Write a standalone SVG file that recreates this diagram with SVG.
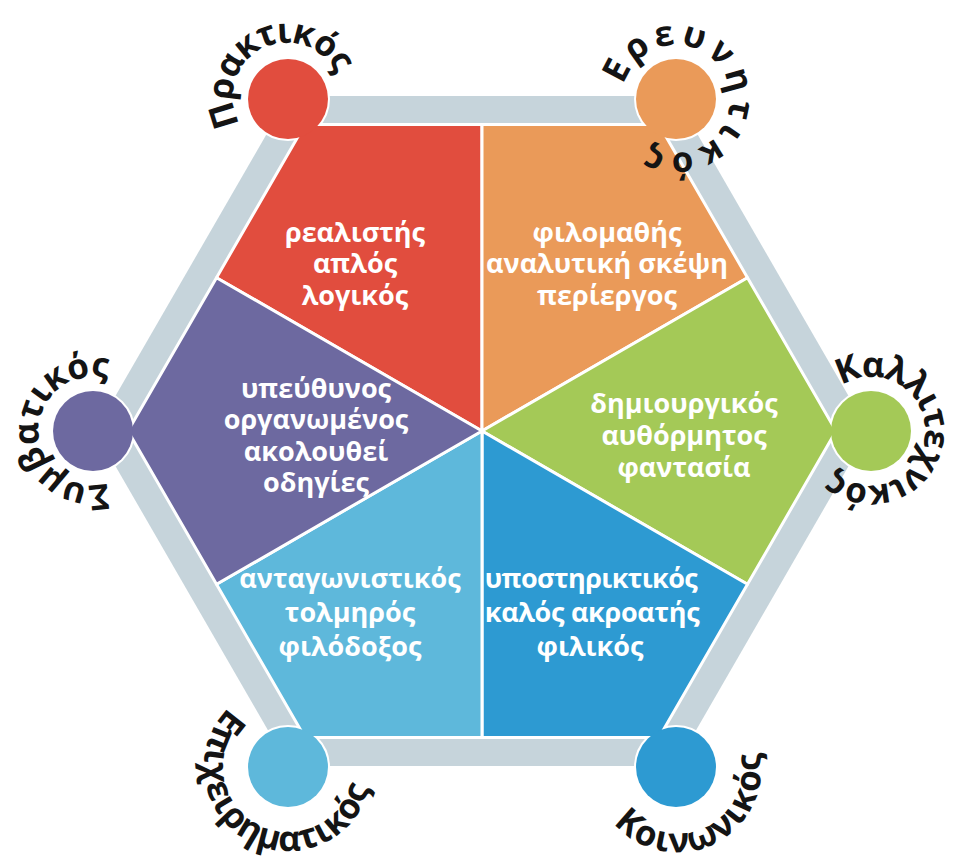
<svg xmlns="http://www.w3.org/2000/svg" width="956" height="859" viewBox="0 0 956 859">
<style>
.sec{stroke:#fff;stroke-width:3;stroke-linejoin:round}
.cs{stroke:#fff;stroke-width:4}
.lbl{font-family:"Open Sans","DejaVu Sans",sans-serif;font-weight:700;font-size:27px;fill:#fff;text-anchor:middle}
.arc{font-family:"Open Sans","DejaVu Sans",sans-serif;font-weight:700;font-size:35px;fill:#141414}
</style>
<defs>
<path id="pPr" d="M240.2,124 A54,54 0 1 1 335.8,74 A54,54 0 1 1 240.2,124"/>
<path id="pEr" d="M623.8,85 A54,54 0 1 1 728.2,113 A54,54 0 1 1 623.8,85"/>
<path id="pSy" d="M107.9,482.9 A54,54 0 1 1 78.1,379.1 A54,54 0 1 1 107.9,482.9"/>
<path id="pKa" d="M841.6,385.7 A54,54 0 1 1 900.4,476.3 A54,54 0 1 1 841.6,385.7"/>
<path id="pEp" d="M228.6,707.6 A84,84 0 1 0 347.4,826.4 A84,84 0 1 0 228.6,707.6"/>
<path id="pKo" d="M613.6,823.2 A84,84 0 1 0 738.4,710.8 A84,84 0 1 0 613.6,823.2"/>
</defs>
<rect width="956" height="859" fill="#fff"/>
<polygon points="288.6,96 675.4,96 868.8,431 675.4,766 288.6,766 95.2,431" fill="#C6D4DB"/>
<g id="circles-under">
<circle class="cs" cx="288" cy="99" r="40" fill="#E14D3E"/>
<circle class="cs" cx="676" cy="99" r="40" fill="#EA9A59"/>
<circle class="cs" cx="871" cy="431" r="40" fill="#A4C957"/>
<circle class="cs" cx="676" cy="767" r="40" fill="#2D9AD2"/>
<circle class="cs" cx="288" cy="767" r="40" fill="#5EB8DB"/>
<circle class="cs" cx="93" cy="431" r="40" fill="#6D69A0"/>
</g>
<g id="praktikos">
<polygon class="sec" fill="#E14D3E" points="482,431 482,124.4 305,124.4 216.5,277.7"/>
<circle cx="288" cy="99" r="40" fill="#E14D3E"/>
<text class="lbl" x="355" y="242">ρεαλιστής</text>
<text class="lbl" x="355" y="273">απλός</text>
<text class="lbl" x="355" y="305">λογικός</text>
<text class="arc" letter-spacing="-1.4"><textPath href="#pPr">Πρακτικός</textPath></text>
</g>
<g id="ereunitikos">
<polygon class="sec" fill="#EA9A59" points="482,431 482,124.4 659,124.4 747.5,277.7"/>
<circle cx="676" cy="99" r="40" fill="#EA9A59"/>
<text class="lbl" x="607" y="242">φιλομαθής</text>
<text class="lbl" x="607" y="273">αναλυτική σκέψη</text>
<text class="lbl" x="607" y="305">περίεργος</text>
<text class="arc" letter-spacing="4.6"><textPath href="#pEr">Ερευνητικός</textPath></text>
</g>
<g id="kallitexnikos">
<polygon class="sec" fill="#A4C957" points="482,431 747.5,277.7 836,431 747.5,584.3"/>
<circle cx="871" cy="431" r="40" fill="#A4C957"/>
<text class="lbl" x="684" y="413">δημιουργικός</text>
<text class="lbl" x="684" y="445">αυθόρμητος</text>
<text class="lbl" x="684" y="477">φαντασία</text>
<text class="arc" letter-spacing="-1.5"><textPath href="#pKa">Καλλιτεχνικός</textPath></text>
</g>
<g id="koinonikos">
<polygon class="sec" fill="#2D9AD2" points="482,431 747.5,584.3 659,737.6 482,737.6"/>
<circle cx="676" cy="767" r="40" fill="#2D9AD2"/>
<text class="lbl" x="591" y="588" letter-spacing="-0.6">υποστηρικτικός</text>
<text class="lbl" x="592" y="622" letter-spacing="-0.3">καλός ακροατής</text>
<text class="lbl" x="590" y="656">φιλικός</text>
<text class="arc" letter-spacing="1.5"><textPath href="#pKo">Κοινωνικός</textPath></text>
</g>
<g id="epixeirimatikos">
<polygon class="sec" fill="#5EB8DB" points="482,431 482,737.6 305,737.6 216.5,584.3"/>
<circle cx="288" cy="767" r="40" fill="#5EB8DB"/>
<text class="lbl" x="350" y="588">ανταγωνιστικός</text>
<text class="lbl" x="350" y="622">τολμηρός</text>
<text class="lbl" x="350" y="656">φιλόδοξος</text>
<text class="arc" letter-spacing="0.7"><textPath href="#pEp">Επιχειρηματικός</textPath></text>
</g>
<g id="symvatikos">
<polygon class="sec" fill="#6D69A0" points="482,431 216.5,584.3 128,431 216.5,277.7"/>
<circle cx="93" cy="431" r="40" fill="#6D69A0"/>
<text class="lbl" x="316" y="398">υπεύθυνος</text>
<text class="lbl" x="316" y="429">οργανωμένος</text>
<text class="lbl" x="316" y="461">ακολουθεί</text>
<text class="lbl" x="316" y="492">οδηγίες</text>
<text class="arc" letter-spacing="-0.6"><textPath href="#pSy">Συμβατικός</textPath></text>
</g>
<g id="connectors"></g>
</svg>
